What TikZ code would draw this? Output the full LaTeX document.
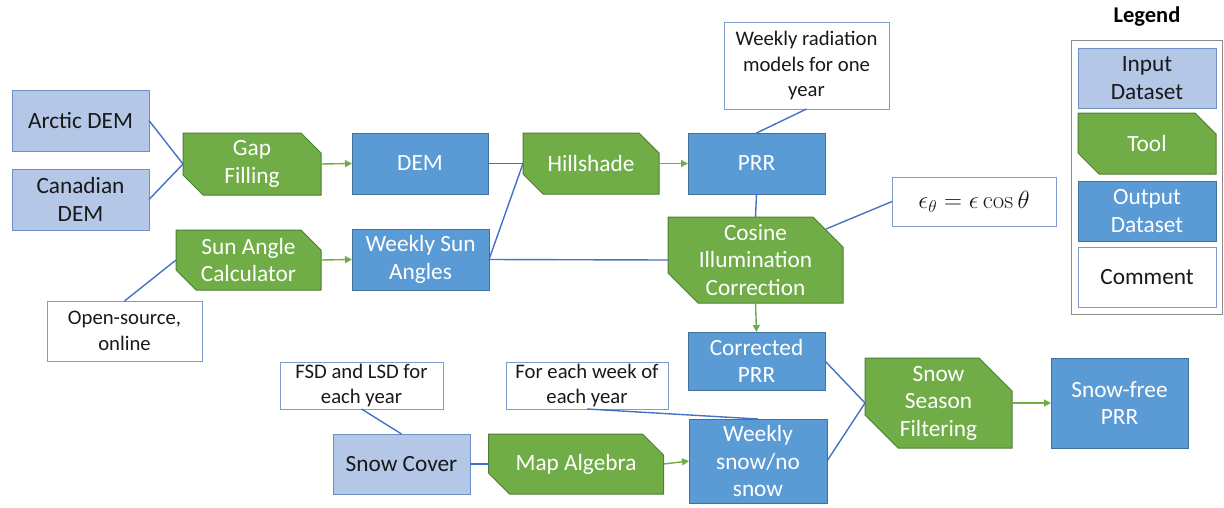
\documentclass[tikz,border=0pt]{standalone}
\usepackage[no-math]{fontspec}
\setmainfont{Carlito}
\usetikzlibrary{arrows.meta,backgrounds}

\definecolor{inputfill}{HTML}{B4C7E7}
\definecolor{inputline}{HTML}{6F8FC6}
\definecolor{outputfill}{HTML}{5B9BD5}
\definecolor{outputline}{HTML}{41719C}
\definecolor{toolfill}{HTML}{70AD47}
\definecolor{toolline}{HTML}{507E32}
\definecolor{commentline}{HTML}{7C9BCF}
\definecolor{linkblue}{HTML}{4472C4}
\definecolor{legendline}{HTML}{8C8C8C}

\begin{document}
\begin{tikzpicture}[
x=1pt, y=-1pt,
every node/.style={inner sep=0pt, outer sep=0pt, align=center, font=\fontsize{23.3}{27.5}\selectfont},
input/.style={draw=inputline, fill=inputfill, line width=1pt, text=black!90},
output/.style={draw=outputline, fill=outputfill, line width=1pt, text=white},
tool/.style={text=white},
comment/.style={draw=commentline, fill=white, line width=1pt, text=black!90, font=\fontsize{20.7}{25.5}\selectfont},
link/.style={draw=linkblue, line width=1.4pt},
flow/.style={draw=toolfill, line width=1.4pt, -{Triangle[length=7pt,width=7pt]}}
]
\useasboundingbox (0,0) rectangle (1224,507);

% datasets and tools
\node[input, minimum width=137pt, minimum height=61pt] (arctic) at (80.5,120.5) {Arctic DEM};
\node[input, minimum width=137pt, minimum height=61pt] (canada) at (80.5,199.5) {Canadian\\DEM};
\node[tool, minimum width=138pt, minimum height=62pt] (gap) at (252,164) {Gap\\Filling};
\node[output, minimum width=136pt, minimum height=61pt] (dem) at (420,163.5) {DEM};
\node[tool, minimum width=136pt, minimum height=61pt] (hill) at (591,163.5) {Hillshade};
\node[output, minimum width=137pt, minimum height=61pt] (prr) at (756.5,163.5) {PRR};
\node[comment, minimum width=165pt, minimum height=87pt] (radnote) at (806.5,65.5) {Weekly radiation\\models for one\\year};

\node[tool, minimum width=145pt, minimum height=60pt] (sun) at (248.5,260) {Sun Angle\\Calculator};
\node[output, minimum width=137pt, minimum height=61pt] (wsun) at (420.5,259.5) {Weekly Sun\\Angles};
\node[tool, minimum width=175pt, minimum height=86pt] (cos) at (755.5,260) {Cosine\\Illumination\\Correction};
\node[comment, minimum width=164pt, minimum height=49pt, font=\fontsize{24.5}{30}\selectfont] (eps) at (974,201.5) {$\epsilon_\theta=\epsilon\cos\theta$};
\node[comment, minimum width=155pt, minimum height=60pt] (opennote) at (124.5,331) {Open-source,\\online};

\node[output, minimum width=137pt, minimum height=58pt] (corr) at (756.5,361) {Corrected\\PRR};
\node[comment, minimum width=163pt, minimum height=47pt] (fsdnote) at (361.5,385.5) {FSD and LSD for\\each year};
\node[comment, minimum width=162pt, minimum height=47pt] (weeknote) at (587,385.5) {For each week of\\each year};
\node[input, minimum width=137pt, minimum height=60pt] (scover) at (401.5,464) {Snow Cover};
\node[tool, minimum width=175pt, minimum height=60pt] (alg) at (576,464) {Map Algebra};
\node[output, minimum width=138pt, minimum height=84pt] (wsnow) at (758,461) {Weekly\\snow/no\\snow};
\node[tool, minimum width=147pt, minimum height=90pt] (filt) at (938.5,403) {Snow\\Season\\Filtering};
\node[output, minimum width=137pt, minimum height=90pt] (free) at (1119.5,403) {Snow-free\\PRR};

% legend
\node[font=\bfseries\fontsize{22.5}{27}\selectfont] (lgtitle) at (1147,17) {Legend};
\node[draw=legendline, line width=0.8pt, minimum width=151pt, minimum height=274pt] (lgbox) at (1146.5,177.5) {};
\node[input, minimum width=138pt, minimum height=60pt] (lginput) at (1147,78) {Input\\Dataset};
\node[tool, minimum width=138pt, minimum height=61pt] (lgtool) at (1147,143.5) {Tool};
\node[output, minimum width=138pt, minimum height=60pt] (lgoutput) at (1147,211) {Output\\Dataset};
\node[comment, minimum width=138pt, minimum height=60pt, font=\fontsize{23.3}{27}\selectfont] (lgcomment) at (1147,277) {Comment};

% tool shapes, corners snipped
\begin{scope}[on background layer]
\foreach \n/\c in {gap/20, hill/20, sun/20, cos/30, alg/21, filt/33, lgtool/21}
  \filldraw[fill=toolfill, draw=toolline, line width=1pt]
    (\n.north west) -- ([xshift=-\c pt]\n.north east) -- ([yshift=-\c pt]\n.north east)
    -- (\n.south east) -- ([xshift=\c pt]\n.south west) -- ([yshift=\c pt]\n.south west) -- cycle;
\end{scope}

% connectors
\draw[link] (arctic.east) -- (gap.west);
\draw[link] (canada.east) -- (gap.west);
\draw[flow] (gap.east) -- (dem.west);
\draw[link] (dem.east) -- (hill.west);
\draw[link] (wsun.east) -- (hill.west);
\draw[flow] (hill.east) -- (prr.west);
\draw[link] (radnote.south) -- (prr.north);
\draw[link] (prr.south) -- (cos.north);
\draw[flow] (sun.east) -- (wsun.west);
\draw[link] (opennote.north) -- (sun.west);
\draw[link] (wsun.east) -- (cos.west);
\draw[link] (eps.west) -- ([xshift=-17pt,yshift=-12pt]cos.north east);
\draw[flow] (cos.south) -- (corr.north);
\draw[link] (corr.east) -- (filt.west);
\draw[link] (wsnow.east) -- (filt.west);
\draw[flow] (filt.east) -- (free.west);
\draw[link] (fsdnote.south) -- (scover.north);
\draw[link] (weeknote.south) -- (wsnow.north);
\draw[link] (scover.east) -- (alg.west);
\draw[flow] (alg.east) -- (wsnow.west);
\end{tikzpicture}
\end{document}
